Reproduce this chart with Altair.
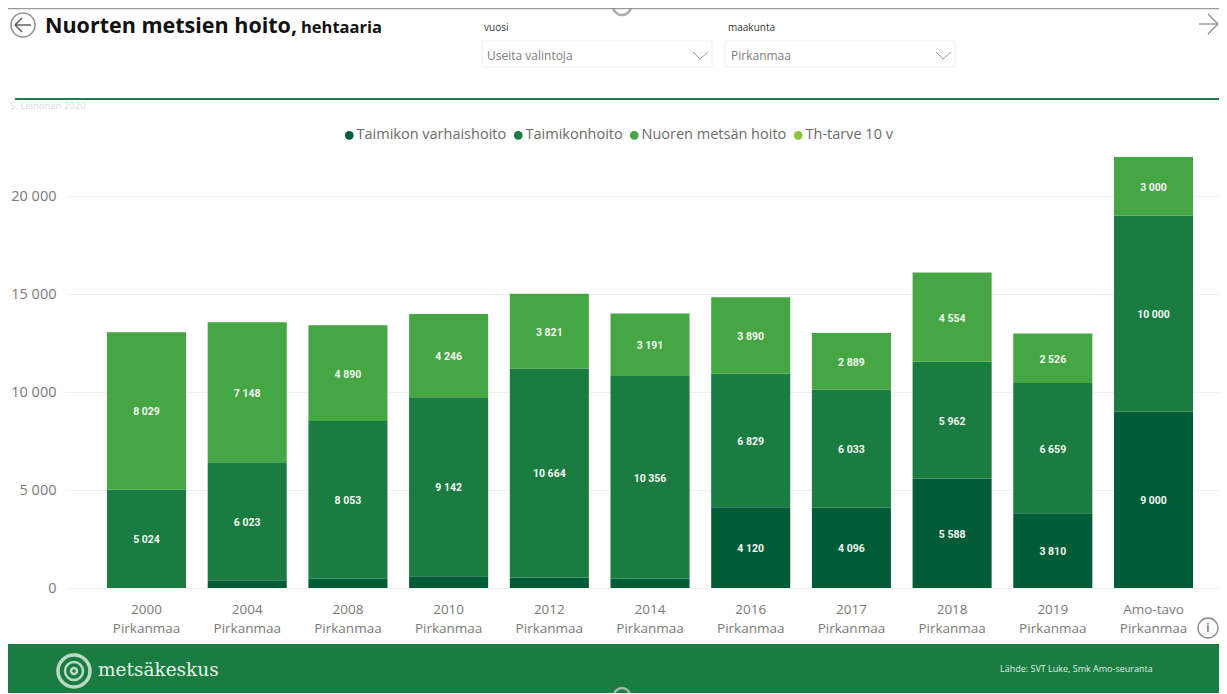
import altair as alt
import pandas as pd

categories = ["2000", "2004", "2008", "2010", "2012", "2014", "2016", "2017", "2018", "2019", "Amo-tavo"]
varhaishoito = [0, 400, 470, 600, 540, 470, 4120, 4096, 5588, 3810, 9000]
taimikonhoito = [5024, 6023, 8053, 9142, 10664, 10356, 6829, 6033, 5962, 6659, 10000]
nuoren = [8029, 7148, 4890, 4246, 3821, 3191, 3890, 2889, 4554, 2526, 3000]
series_names = ["Taimikon varhaishoito", "Taimikonhoito", "Nuoren metsän hoito", "Th-tarve 10 v"]
bar_colors = ["#005c36", "#1a7c40", "#47a644", "#8cc63f"]
y_ticks = [0, 5000, 10000, 15000, 20000]

rows = []
for i, vals in enumerate([varhaishoito, taimikonhoito, nuoren]):
    for c, v in zip(categories, vals):
        rows.append({"cat": c, "series": series_names[i], "s": i, "value": v,
                     "label": f"{v:,}".replace(",", " ") if v >= 1000 else ""})
df = pd.DataFrame(rows)

OX, OY = 65, 157          # plot origin in page pixels
W, H = 1154, 431
UI = "Open Sans"


def px(x):
    return x - OX


def py(y):
    return y - OY


x = alt.X("cat:N", sort=categories, title=None,
          scale=alt.Scale(domain=categories, paddingInner=0.215, paddingOuter=0.3375, align=0.618),
          axis=alt.Axis(labelExpr="[datum.label, 'Pirkanmaa']", labelAngle=0, ticks=False, domain=False,
                        grid=False, labelFontSize=13.5, labelColor="#7a7a7a", labelFont=UI, labelPadding=14,
                        labelLineHeight=19))
y = alt.Y("value:Q", stack="zero", title=None,
          scale=alt.Scale(domain=[0, 22000], nice=False),
          axis=alt.Axis(values=y_ticks, labelExpr="replace(format(datum.value, ','), ',', ' ')",
                        ticks=False, domain=False, gridColor="#f0f0f0", gridWidth=1,
                        labelFontSize=14.5, labelColor="#7a7a7a", labelFont=UI, labelPadding=9))
color = alt.Color("series:N", title=None,
                  scale=alt.Scale(domain=series_names, range=bar_colors),
                  legend=alt.Legend(orient="none", legendX=px(342), legendY=py(128), direction="horizontal",
                                    columns=4, symbolType="circle", symbolSize=75, symbolStrokeWidth=0,
                                    labelFontSize=14.5, labelColor="#6b6b6b", labelFont=UI, labelOffset=0,
                                    columnPadding=4, padding=0, symbolOffset=0))

bars = alt.Chart(df).mark_bar().encode(x=x, y=y, color=color, order=alt.Order("s:Q"))
texts = alt.Chart(df).mark_text(color="#f2f7f2", font="Roboto", fontSize=10.5, fontWeight="bold", dy=1.5).encode(
    x=alt.X("cat:N", sort=categories),
    y=alt.Y("value:Q", stack="zero", bandPosition=0.5),
    detail="series:N", order=alt.Order("s:Q"), text="label:N")


def rect(x1, y1, x2, y2, fill=None, stroke=None, sw=1):
    kw = {}
    if fill:
        kw["fill"] = fill
    else:
        kw["fillOpacity"] = 0
    if stroke:
        kw["stroke"] = stroke
        kw["strokeWidth"] = sw
    return alt.Chart().mark_rect(**kw).encode(
        x=alt.value(px(x1)), x2=alt.value(px(x2)), y=alt.value(py(y1)), y2=alt.value(py(y2)))


def seg(x1, y1, x2, y2, c="#777", sw=1.0):
    return alt.Chart().mark_rule(color=c, strokeWidth=sw).encode(
        x=alt.value(px(x1)), x2=alt.value(px(x2)), y=alt.value(py(y1)), y2=alt.value(py(y2)))


def txt(x0, y0, s, size, c, font=UI, weight="normal", align="left"):
    return alt.Chart().mark_text(color=c, font=font, fontSize=size, fontWeight=weight, align=align,
                                 baseline="middle").encode(
        x=alt.value(px(x0)), y=alt.value(py(y0)), text=alt.value(s))


def ring(x0, y0, r, c, sw=1.5):
    return alt.Chart().mark_point(shape="circle", filled=False, stroke=c, strokeWidth=sw, size=4 * r * r).encode(
        x=alt.value(px(x0)), y=alt.value(py(y0)))


chrome = [
    rect(8, 644, 1227, 694, fill="#1a7c40"),
    seg(8, 8.5, 1227, 8.5, "#9a9a9a", 1.5),
    ring(622, 6, 9, "#8a8a8a", 2.5),
    ring(622, 696, 8, "#d8d8d8", 2.5),
    # back arrow
    ring(23, 25, 12, "#666", 1.6),
    seg(15, 25, 31, 25, "#555", 1.4), seg(15, 25, 22, 18, "#555", 1.4), seg(15, 25, 22, 32, "#555", 1.4),
    # forward arrow
    seg(1199, 24, 1218, 24, "#888", 1.2), seg(1218, 24, 1208, 14, "#888", 1.2), seg(1218, 24, 1208, 34, "#888", 1.2),
    # title
    txt(45, 27, "Nuorten metsien hoito,", 21.5, "#111", weight="bold"),
    txt(301, 28, "hehtaaria", 16.5, "#111", weight="bold"),
    # slicers
    txt(484, 28, "vuosi", 10, "#333"),
    rect(482, 41, 712, 67, stroke="#f0f0f0"),
    txt(487, 56, "Useita valintoja", 12, "#7d7d7d"),
    seg(693, 52, 700, 59, "#999"), seg(700, 59, 708, 52, "#999"),
    txt(728, 28, "maakunta", 10, "#333"),
    rect(725, 41, 955, 67, stroke="#f0f0f0"),
    txt(731, 56, "Pirkanmaa", 12, "#7d7d7d"),
    seg(936, 52, 943, 59, "#999"), seg(943, 59, 951, 52, "#999"),
    # divider
    seg(15, 99, 1227, 99, "#1f7a52", 2),
    txt(10, 106, "S. Leinonen 2020", 9.5, "#dcdcdc"),
    # info icon
    ring(1208, 628, 10, "#555", 1.3),
    txt(1208, 628, "i", 13, "#444", align="center"),
    # footer
    ring(74, 671, 16, "white", 3.5), ring(74, 671, 9, "white", 2.5), ring(74, 671, 3, "white", 2.5),
    txt(98, 670, "metsäkeskus", 18.5, "#e8f2ea", font="DejaVu Serif"),
    txt(1000, 669, "Lähde: SVT Luke, Smk Amo-seuranta", 9, "#dfeee3"),
]

chart = alt.layer(bars, texts, *chrome).properties(
    width=W, height=H,
    padding={"left": OX - 8, "top": OY - 8, "right": 0, "bottom": 685 - (OY - 8) - H},
    autosize=alt.AutoSizeParams(type="none"),
    background="white",
).configure_view(stroke=None)

chart.save("out.html", embed_options={"renderer": "svg", "actions": False})
